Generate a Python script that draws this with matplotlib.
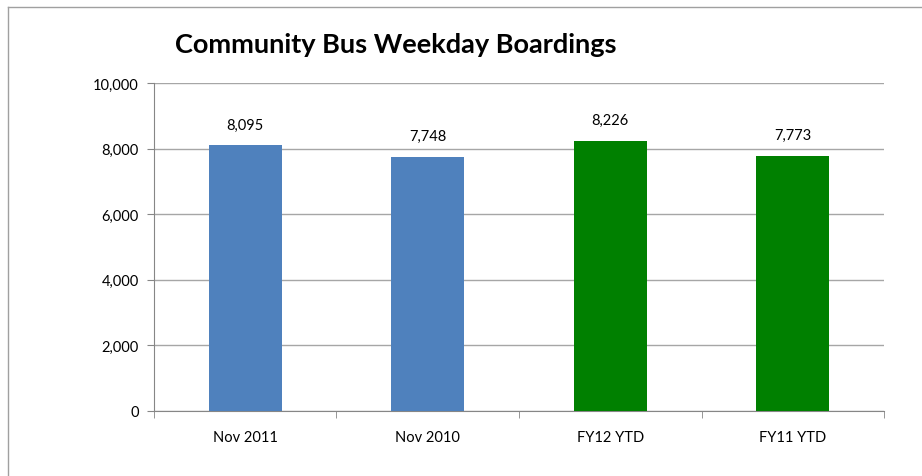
import matplotlib.pyplot as plt
from matplotlib.lines import Line2D
from matplotlib.ticker import FuncFormatter

categories = ["Nov 2011", "Nov 2010", "FY12 YTD", "FY11 YTD"]
boardings = [8095, 7748, 8226, 7773]
bar_colors = ["#4F81BD", "#4F81BD", "#008000", "#008000"]
yticks = [0, 2000, 4000, 6000, 8000, 10000]

plt.rcParams['font.family'] = ['Lato', 'DejaVu Sans']

fig = plt.figure(figsize=(9.22, 4.77), dpi=100)
ax = fig.add_axes([0.167, 0.1363, 0.7918, 0.6876])

x = range(len(categories))
ax.bar(x, boardings, width=0.4, color=bar_colors, zorder=3)
for i, v in enumerate(boardings):
    ax.annotate(f"{v:,}", (i, v), xytext=(0, 10), textcoords="offset points",
                ha="center", va="bottom", fontsize=10.5)

ax.set_xlim(-0.5, len(categories) - 0.5)
ax.set_ylim(0, 10000)
ax.set_yticks(yticks)
ax.yaxis.set_major_formatter(FuncFormatter(lambda v, p: f"{int(v):,}"))
ax.grid(axis="y", color="#A6A6A6", linewidth=1, zorder=0)

ax.set_xticks(list(x))
ax.set_xticklabels(categories, fontsize=10.5)
ax.set_xticks([i - 0.5 for i in range(len(categories) + 1)], minor=True)
ax.tick_params(axis="x", which="major", length=0, pad=14)
ax.tick_params(axis="x", which="minor", length=5, color="#868686", direction="out")
ax.tick_params(axis="y", length=5, color="#868686", labelsize=10.5, pad=6)

for s in ["top", "right"]:
    ax.spines[s].set_visible(False)
ax.spines["left"].set_color("#868686")
ax.spines["bottom"].set_color("#868686")

fig.text(0.19, 0.905, "Community Bus Weekday Boardings", fontsize=19.5,
         fontweight="bold", ha="left", va="center")

# chart area border (top and left edges visible)
fig.add_artist(Line2D([8 / 922, 1], [1 - 8 / 477, 1 - 8 / 477], color="#A0A0A0", lw=1))
fig.add_artist(Line2D([8 / 922, 8 / 922], [0, 1 - 8 / 477], color="#A0A0A0", lw=1))

plt.savefig("out.png", dpi=100)
